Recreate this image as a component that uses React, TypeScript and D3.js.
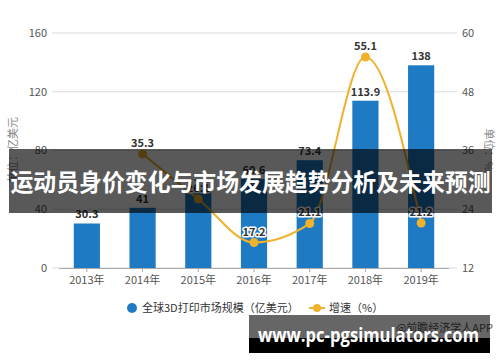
import * as d3 from "d3";

// values
const years = ["2013年", "2014年", "2015年", "2016年", "2017年", "2018年", "2019年"];
const marketSize = [30.3, 41, 51.7, 60.6, 73.4, 113.9, 138];
const growth: (number | null)[] = [null, 35.3, 26.1, 17.2, 21.1, 55.1, 21.2];
const leftTicks = [0, 40, 80, 120, 160];
const rightTicks = [12, 24, 36, 48, 60];

const width = 500;
const height = 362;
const font = "'Noto Sans CJK SC', 'Noto Sans', sans-serif";
const barColor = "#1f7ac4";
const lineColor = "#f0b12c";

type GrowthPoint = { year: string; value: number };

export default function App() {
  const x = d3.scaleBand<string>().domain(years).range([59, 449]).padding(0);
  const yLeft = d3.scaleLinear().domain([0, 160]).range([268, 33]);
  const yRight = d3.scaleLinear().domain([12, 60]).range([268, 33]);
  const cx = (d: string) => (x(d) ?? 0) + x.bandwidth() / 2;
  const barW = x.bandwidth() * 0.47;

  const points: GrowthPoint[] = years
    .map((year, i) => ({ year, value: growth[i] }))
    .filter((d): d is GrowthPoint => d.value !== null);

  const linePath = d3
    .line<GrowthPoint>()
    .x((d) => cx(d.year))
    .y((d) => yRight(d.value))
    .curve(d3.curveMonotoneX)(points);

  const halo = { stroke: "#fff", strokeWidth: 3, paintOrder: "stroke" as const, strokeLinejoin: "round" as const };

  return (
    <svg
      width={width}
      height={height}
      style={{ position: "absolute", left: 0, top: 0, background: "#fff", fontFamily: font }}
    >
      {/* grid + left ticks */}
      {leftTicks.map((t) => (
        <g key={"l" + t}>
          <line x1={52} x2={457} y1={yLeft(t)} y2={yLeft(t)} stroke="#dcdcdc" strokeWidth={1} />
          <text x={47} y={yLeft(t)} dy="0.35em" textAnchor="end" fontSize={11} fill="#555">
            {t}
          </text>
        </g>
      ))}
      {rightTicks.map((t) => (
        <text key={"r" + t} x={462} y={yRight(t)} dy="0.35em" fontSize={11} fill="#555">
          {t}
        </text>
      ))}

      {/* axis titles */}
      <text transform="translate(17,150) rotate(-90)" textAnchor="middle" fontSize={11} fill="#888">
        单位：亿美元
      </text>
      <text transform="translate(485,150) rotate(90)" textAnchor="middle" fontSize={11} fill="#888">
        单位：%
      </text>

      {/* bars */}
      {years.map((yr, i) => (
        <rect
          key={yr}
          x={cx(yr) - barW / 2}
          y={yLeft(marketSize[i])}
          width={barW}
          height={yLeft(0) - yLeft(marketSize[i])}
          fill={barColor}
        />
      ))}

      {/* x axis */}
      <line x1={59} x2={449} y1={268.5} y2={268.5} stroke="#aaa" strokeWidth={1} />
      {years.map((yr) => (
        <g key={"x" + yr}>
          <line x1={cx(yr)} x2={cx(yr)} y1={268} y2={272} stroke="#aaa" />
          <text x={cx(yr)} y={284} textAnchor="middle" fontSize={11} fill="#555">
            {yr}
          </text>
        </g>
      ))}

      {/* bar labels */}
      {years.map((yr, i) => (
        <text
          key={"bl" + yr}
          x={cx(yr)}
          y={yLeft(marketSize[i]) - 5}
          textAnchor="middle"
          fontSize={11}
          fontWeight="bold"
          fill="#333"
          {...halo}
        >
          {marketSize[i]}
        </text>
      ))}

      {/* growth line */}
      <path d={linePath ?? undefined} fill="none" stroke={lineColor} strokeWidth={2} />
      {points.map((p) => (
        <circle key={"p" + p.year} cx={cx(p.year)} cy={yRight(p.value)} r={4.5} fill={lineColor} />
      ))}
      {points.map((p) => (
        <text
          key={"pl" + p.year}
          x={cx(p.year)}
          y={yRight(p.value) - 7}
          textAnchor="middle"
          fontSize={11}
          fontWeight="bold"
          fill="#333"
          {...halo}
        >
          {p.value}
        </text>
      ))}

      {/* legend */}
      <circle cx={132} cy={308} r={5} fill={barColor} />
      <text x={142} y={308} dy="0.35em" fontSize={11} fill="#333">
        全球3D打印市场规模（亿美元）
      </text>
      <line x1={309} x2={325} y1={308} y2={308} stroke={lineColor} strokeWidth={2} />
      <circle cx={317} cy={308} r={4} fill={lineColor} />
      <text x={329} y={308} dy="0.35em" fontSize={11} fill="#333">
        增速（%）
      </text>

      {/* source */}
      <text x={493} y={332} textAnchor="end" fontSize={11} fill="#555">
        @前瞻经济学人APP
      </text>

      {/* title banner */}
      <rect x={9} y={149} width={483} height={64} fill="rgba(0,0,0,0.65)" />
      <text
        x={250.5}
        y={183}
        dy="0.35em"
        textAnchor="middle"
        fontSize={24}
        fontWeight="bold"
        fill="#fff"
        textLength={480}
        lengthAdjust="spacingAndGlyphs"
      >
        运动员身价变化与市场发展趋势分析及未来预测
      </text>

      {/* bottom watermark */}
      <rect x={249} y={315} width={241} height={23} fill="rgba(0,0,0,0.6)" />
      <rect x={249} y={338} width={241} height={15} fill="#000" />
      <text
        x={258}
        y={342}
        fontSize={20}
        fontWeight="bold"
        fill="#fff"
        fontFamily="'Open Sans', 'Noto Sans', sans-serif"
        textLength={221}
        lengthAdjust="spacingAndGlyphs"
      >
        www.pc-pgsimulators.com
      </text>
    </svg>
  );
}
